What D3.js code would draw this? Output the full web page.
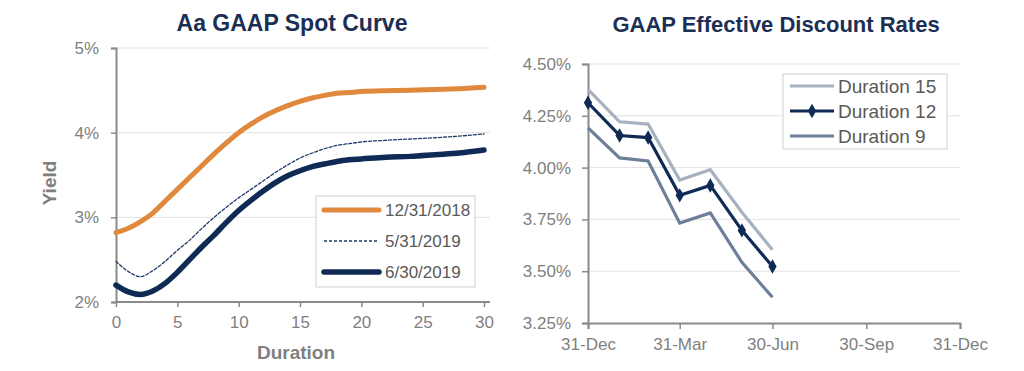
<!DOCTYPE html>
<html>
<head>
<meta charset="utf-8">
<script src="https://cdn.jsdelivr.net/npm/d3@7"></script>
<style>
  body { margin: 0; background: #fff; }
  svg { font-family: "Liberation Sans", Arial, sans-serif; }
</style>
</head>
<body>
<div id="chart"></div>
<script>
// ---- data: spot curve ----
var durations = [0, 1, 2, 3, 4, 5, 6, 7, 8, 9, 10, 11, 12, 13, 14, 15, 16, 17, 18, 19, 20, 22, 24, 26, 28, 30];
var spot20181231 = [2.82, 2.87, 2.95, 3.05, 3.19, 3.33, 3.47, 3.61, 3.75, 3.88, 4.00, 4.10, 4.19, 4.26, 4.32, 4.37, 4.41, 4.44, 4.465, 4.475, 4.485, 4.495, 4.50, 4.51, 4.52, 4.535];
var spot20190531 = [2.48, 2.36, 2.30, 2.37, 2.48, 2.61, 2.73, 2.87, 3.00, 3.12, 3.23, 3.33, 3.43, 3.53, 3.62, 3.70, 3.76, 3.81, 3.85, 3.87, 3.89, 3.91, 3.925, 3.94, 3.96, 3.985];
var spot20190630 = [2.20, 2.12, 2.09, 2.13, 2.22, 2.35, 2.50, 2.65, 2.79, 2.94, 3.08, 3.20, 3.31, 3.41, 3.49, 3.55, 3.60, 3.63, 3.66, 3.68, 3.69, 3.71, 3.72, 3.74, 3.76, 3.795];
var spotNames = ["12/31/2018", "5/31/2019", "6/30/2019"];
var spotYTicks = [2, 3, 4, 5];
var spotXTicks = [0, 5, 10, 15, 20, 25, 30];

// ---- data: effective discount rates ----
var rateDates = ["2018-12-31", "2019-01-31", "2019-02-28", "2019-03-31", "2019-04-30", "2019-05-31", "2019-06-30"];
var dur15 = [4.378, 4.221, 4.210, 3.940, 3.990, 3.785, 3.603];
var dur12 = [4.313, 4.155, 4.145, 3.866, 3.914, 3.697, 3.523];
var dur9 = [4.192, 4.047, 4.032, 3.732, 3.781, 3.543, 3.374];
var rateNames = ["Duration 15", "Duration 12", "Duration 9"];
var rateYTicks = [3.25, 3.50, 3.75, 4.00, 4.25, 4.50];
var rateXTicks = ["2018-12-31", "2019-03-31", "2019-06-30", "2019-09-30", "2019-12-31"];

var navy = "#0f2b55";
var titleColor = "#1b2f55";
var tickColor = "#7f7f7f";
var axisColor = "#8a8a8a";
var gridColor = "#e2e2e2";

var svg = d3.select("#chart").append("svg")
    .attr("width", 1024)
    .attr("height", 371);

function styleAxis(g) {
    g.select(".domain").attr("stroke", axisColor).attr("stroke-width", 2);
    g.selectAll(".tick line").attr("stroke", axisColor).attr("stroke-width", 1.5);
    g.selectAll(".tick text").attr("fill", tickColor);
}

// ================= left chart =================
var xSpot = d3.scaleLinear().domain([0, 30]).range([116, 484]);
var ySpot = d3.scaleLinear().domain([2, 5]).range([302, 48]);

var left = svg.append("g");

left.append("text")
    .attr("x", 292).attr("y", 31)
    .attr("text-anchor", "middle")
    .attr("font-size", 23).attr("font-weight", "bold")
    .attr("fill", titleColor)
    .text("Aa GAAP Spot Curve");

// gridlines
left.selectAll(".grid").data(spotYTicks.slice(1)).enter().append("line")
    .attr("x1", 116).attr("x2", 490)
    .attr("y1", d => ySpot(d)).attr("y2", d => ySpot(d))
    .attr("stroke", gridColor).attr("stroke-width", 1);

var spotYAxis = left.append("g")
    .attr("transform", "translate(116,0)")
    .call(d3.axisLeft(ySpot).tickValues(spotYTicks).tickSize(5).tickPadding(12)
        .tickFormat(d => d + "%"));
styleAxis(spotYAxis);
spotYAxis.selectAll(".tick text").attr("font-size", 17);

var spotXAxis = left.append("g")
    .attr("transform", "translate(0,302)")
    .call(d3.axisBottom(xSpot).tickValues(spotXTicks).tickSize(5).tickPadding(9).tickSizeOuter(0));
styleAxis(spotXAxis);
spotXAxis.select(".domain").attr("d", "M116,0H490");
spotXAxis.selectAll(".tick text").attr("font-size", 17);

left.append("text")
    .attr("transform", "translate(56,183) rotate(-90)")
    .attr("text-anchor", "middle")
    .attr("font-size", 19).attr("font-weight", "bold")
    .attr("fill", tickColor)
    .text("Yield");

left.append("text")
    .attr("x", 296).attr("y", 359)
    .attr("text-anchor", "middle")
    .attr("font-size", 19).attr("font-weight", "bold")
    .attr("fill", tickColor)
    .text("Duration");

var spotSeries = [
    { name: spotNames[0], values: spot20181231, color: "#e0883c", width: 5, dash: null },
    { name: spotNames[1], values: spot20190531, color: "#1d3a66", width: 1.3, dash: "3,2" },
    { name: spotNames[2], values: spot20190630, color: navy, width: 5.5, dash: null }
];

var spotLine = d3.line()
    .x((d, i) => xSpot(durations[i]))
    .y(d => ySpot(d))
    .curve(d3.curveMonotoneX);

left.selectAll(".spot").data(spotSeries).enter().append("path")
    .attr("d", d => spotLine(d.values))
    .attr("fill", "none")
    .attr("stroke", d => d.color)
    .attr("stroke-width", d => d.width)
    .attr("stroke-dasharray", d => d.dash)
    .attr("stroke-linecap", "round");

// legend
var spotLegend = left.append("g");
spotLegend.append("rect")
    .attr("x", 316).attr("y", 196).attr("width", 159).attr("height", 91)
    .attr("fill", "#fff").attr("stroke", "#cfcfcf").attr("stroke-width", 1);
var spotItems = spotLegend.selectAll(".item").data(spotSeries).enter().append("g")
    .attr("transform", (d, i) => "translate(0," + (210 + i * 31) + ")");
spotItems.append("line")
    .attr("x1", 324).attr("x2", 379)
    .attr("stroke", d => d.color)
    .attr("stroke-width", d => d.width)
    .attr("stroke-dasharray", d => d.dash)
    .attr("stroke-linecap", d => d.dash ? "butt" : "round");
spotItems.append("text")
    .attr("x", 385).attr("dy", "0.35em")
    .attr("font-size", 17).attr("fill", "#595959")
    .text(d => d.name);

// ================= right chart =================
var parseDate = d3.timeParse("%Y-%m-%d");
var dates = rateDates.map(parseDate);

var xRate = d3.scaleTime()
    .domain([parseDate("2018-12-31"), parseDate("2019-12-31")])
    .range([588, 960]);
var yRate = d3.scaleLinear().domain([3.25, 4.50]).range([323, 64]);

var right = svg.append("g");

right.append("text")
    .attr("x", 776).attr("y", 32)
    .attr("text-anchor", "middle")
    .attr("font-size", 22).attr("font-weight", "bold")
    .attr("fill", titleColor)
    .text("GAAP Effective Discount Rates");

right.selectAll(".grid").data(rateYTicks.slice(1)).enter().append("line")
    .attr("x1", 588).attr("x2", 960)
    .attr("y1", d => yRate(d)).attr("y2", d => yRate(d))
    .attr("stroke", gridColor).attr("stroke-width", 1);

var rateYAxis = right.append("g")
    .attr("transform", "translate(588,0)")
    .call(d3.axisLeft(yRate).tickValues(rateYTicks).tickSize(6).tickPadding(11)
        .tickFormat(d => d.toFixed(2) + "%"));
styleAxis(rateYAxis);
rateYAxis.selectAll(".tick text").attr("font-size", 17);

var rateXAxis = right.append("g")
    .attr("transform", "translate(0,323)")
    .call(d3.axisBottom(xRate).tickValues(rateXTicks.map(parseDate)).tickSize(6).tickPadding(9)
        .tickFormat(d3.timeFormat("%d-%b")));
styleAxis(rateXAxis);
rateXAxis.selectAll(".tick text").attr("font-size", 17);

var rateSeries = [
    { name: rateNames[0], values: dur15, color: "#a7b2c1", marker: false },
    { name: rateNames[1], values: dur12, color: navy, marker: true },
    { name: rateNames[2], values: dur9, color: "#6e7f98", marker: false }
];

var rateLine = d3.line()
    .x((d, i) => xRate(dates[i]))
    .y(d => yRate(d));

right.selectAll(".rate").data(rateSeries).enter().append("path")
    .attr("d", d => rateLine(d.values))
    .attr("fill", "none")
    .attr("stroke", d => d.color)
    .attr("stroke-width", 3.2);

var diamond = d3.symbol().type(d3.symbolDiamond).size(60);
right.selectAll(".marker").data(dur12).enter().append("path")
    .attr("d", diamond)
    .attr("transform", (d, i) => "translate(" + xRate(dates[i]) + "," + yRate(d) + ")")
    .attr("fill", navy);

// legend
var rateLegend = right.append("g");
rateLegend.append("rect")
    .attr("x", 783).attr("y", 74).attr("width", 164).attr("height", 75)
    .attr("fill", "#fff").attr("stroke", "#cfcfcf").attr("stroke-width", 1);
var rateItems = rateLegend.selectAll(".item").data(rateSeries).enter().append("g")
    .attr("transform", (d, i) => "translate(0," + (86 + i * 25) + ")");
rateItems.append("line")
    .attr("x1", 790).attr("x2", 834)
    .attr("stroke", d => d.color)
    .attr("stroke-width", 3.2);
rateItems.filter(d => d.marker).append("path")
    .attr("d", diamond)
    .attr("transform", "translate(812,0)")
    .attr("fill", navy);
rateItems.append("text")
    .attr("x", 838).attr("dy", "0.35em")
    .attr("font-size", 19).attr("fill", "#595959")
    .text(d => d.name);
</script>
</body>
</html>
